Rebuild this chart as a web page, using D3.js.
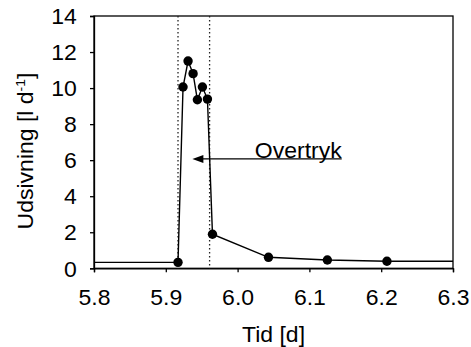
<!DOCTYPE html>
<html>
<head>
<meta charset="utf-8">
<script src="https://cdn.jsdelivr.net/npm/d3@7"></script>
<style>
  html, body { margin: 0; padding: 0; background: #fff; }
  svg { display: block; }
  text { font-family: "Liberation Sans", Arial, sans-serif; fill: #000; }
</style>
</head>
<body>
<svg id="chart" width="471" height="347"></svg>
<script>
// Measured outflow (l/d) over time (days)
const times  = [5.917, 5.924, 5.931, 5.938, 5.944, 5.951, 5.958, 5.965, 6.043, 6.125, 6.208];
const values = [0.33, 10.06, 11.5, 10.8, 9.35, 10.06, 9.39, 1.89, 0.61, 0.46, 0.39];
// Baseline level before and after the measured points
const leadIn = [5.8, 0.33];
const tail   = [6.3, 0.39];
// Overpressure period boundaries
const overpressure = [5.917, 5.961];
// Annotation arrow (from, to) in data units
const arrowT = [6.145, 5.937];
const arrowV = 6.07;
const arrowLabel = "Overtryk";

const xTicks = [5.8, 5.9, 6.0, 6.1, 6.2, 6.3];
const yTicks = [0, 2, 4, 6, 8, 10, 12, 14];

const FS = 21.5;      // label font size
const SX = 1.07;      // slight horizontal widening of glyphs

const svg = d3.select("#chart");
const x = d3.scaleLinear().domain([5.8, 6.3]).range([94, 453]);
const y = d3.scaleLinear().domain([0, 14]).range([268.3, 16]);

// Frame
svg.append("rect")
  .attr("x", x(5.8)).attr("y", y(14))
  .attr("width", x(6.3) - x(5.8)).attr("height", y(0) - y(14))
  .attr("fill", "none").attr("stroke", "#000").attr("stroke-width", 1.3);

// Axes
const xAxis = d3.axisBottom(x).tickValues(xTicks).tickFormat(d3.format(".1f"))
  .tickSize(4).tickPadding(17);
const yAxis = d3.axisLeft(y).tickValues(yTicks).tickFormat(d3.format("d"))
  .tickSize(4).tickPadding(12);

const gx = svg.append("g").attr("transform", `translate(0,${y(0)})`).call(xAxis);
const gy = svg.append("g").attr("transform", `translate(${x(5.8)},0)`).call(yAxis);
[gx, gy].forEach(g => {
  g.select(".domain").attr("stroke", "#000").attr("stroke-width", 1.3);
  g.selectAll(".tick line").attr("stroke", "#000").attr("stroke-width", 1.3);
  g.selectAll(".tick text")
    .attr("font-size", FS)
    .attr("font-family", "Liberation Sans, Arial, sans-serif")
    .attr("fill", "#000")
    .attr("transform", `scale(${SX},1)`);
});
gy.selectAll(".tick text").attr("dy", "0.36em");

// Dotted period markers
svg.append("g").selectAll("line").data(overpressure).join("line")
  .attr("x1", d => x(d)).attr("x2", d => x(d))
  .attr("y1", y(14)).attr("y2", y(0))
  .attr("stroke", "#222").attr("stroke-width", 1.3)
  .attr("stroke-dasharray", "1.4,2.6");

// Series line
const pts = [leadIn].concat(times.map((t, i) => [t, values[i]])).concat([tail]);
svg.append("path")
  .datum(pts)
  .attr("fill", "none").attr("stroke", "#000").attr("stroke-width", 1.4)
  .attr("d", d3.line().x(d => x(d[0])).y(d => y(d[1])));

svg.append("g").selectAll("circle").data(times).join("circle")
  .attr("cx", d => x(d)).attr("cy", (d, i) => y(values[i]))
  .attr("r", 4.7).attr("fill", "#000");

// Annotation arrow
const ay = y(arrowV), tip = x(arrowT[1]);
svg.append("line")
  .attr("x1", x(arrowT[0])).attr("x2", tip + 6)
  .attr("y1", ay).attr("y2", ay)
  .attr("stroke", "#000").attr("stroke-width", 1.3);
svg.append("path")
  .attr("d", `M${tip},${ay}L${tip + 11},${ay - 4}L${tip + 11},${ay + 4}Z`)
  .attr("fill", "#000");
svg.append("text")
  .attr("transform", `translate(${x(arrowT[0])},${ay - 1.3}) scale(${SX},1)`)
  .attr("text-anchor", "end").attr("font-size", FS)
  .text(arrowLabel);

// Axis titles
svg.append("text")
  .attr("transform", `translate(${(x(5.8) + x(6.3)) / 2},341.5) scale(${SX},1)`)
  .attr("text-anchor", "middle").attr("font-size", FS)
  .text("Tid [d]");

const yt = svg.append("text")
  .attr("transform", `translate(33,151) rotate(-90) scale(${SX},1)`)
  .attr("text-anchor", "middle").attr("font-size", FS);
yt.append("tspan").text("Udsivning [l d");
yt.append("tspan").attr("font-size", 13).attr("dy", -8).text("-1");
yt.append("tspan").attr("dy", 8).text("]");
</script>
</body>
</html>
